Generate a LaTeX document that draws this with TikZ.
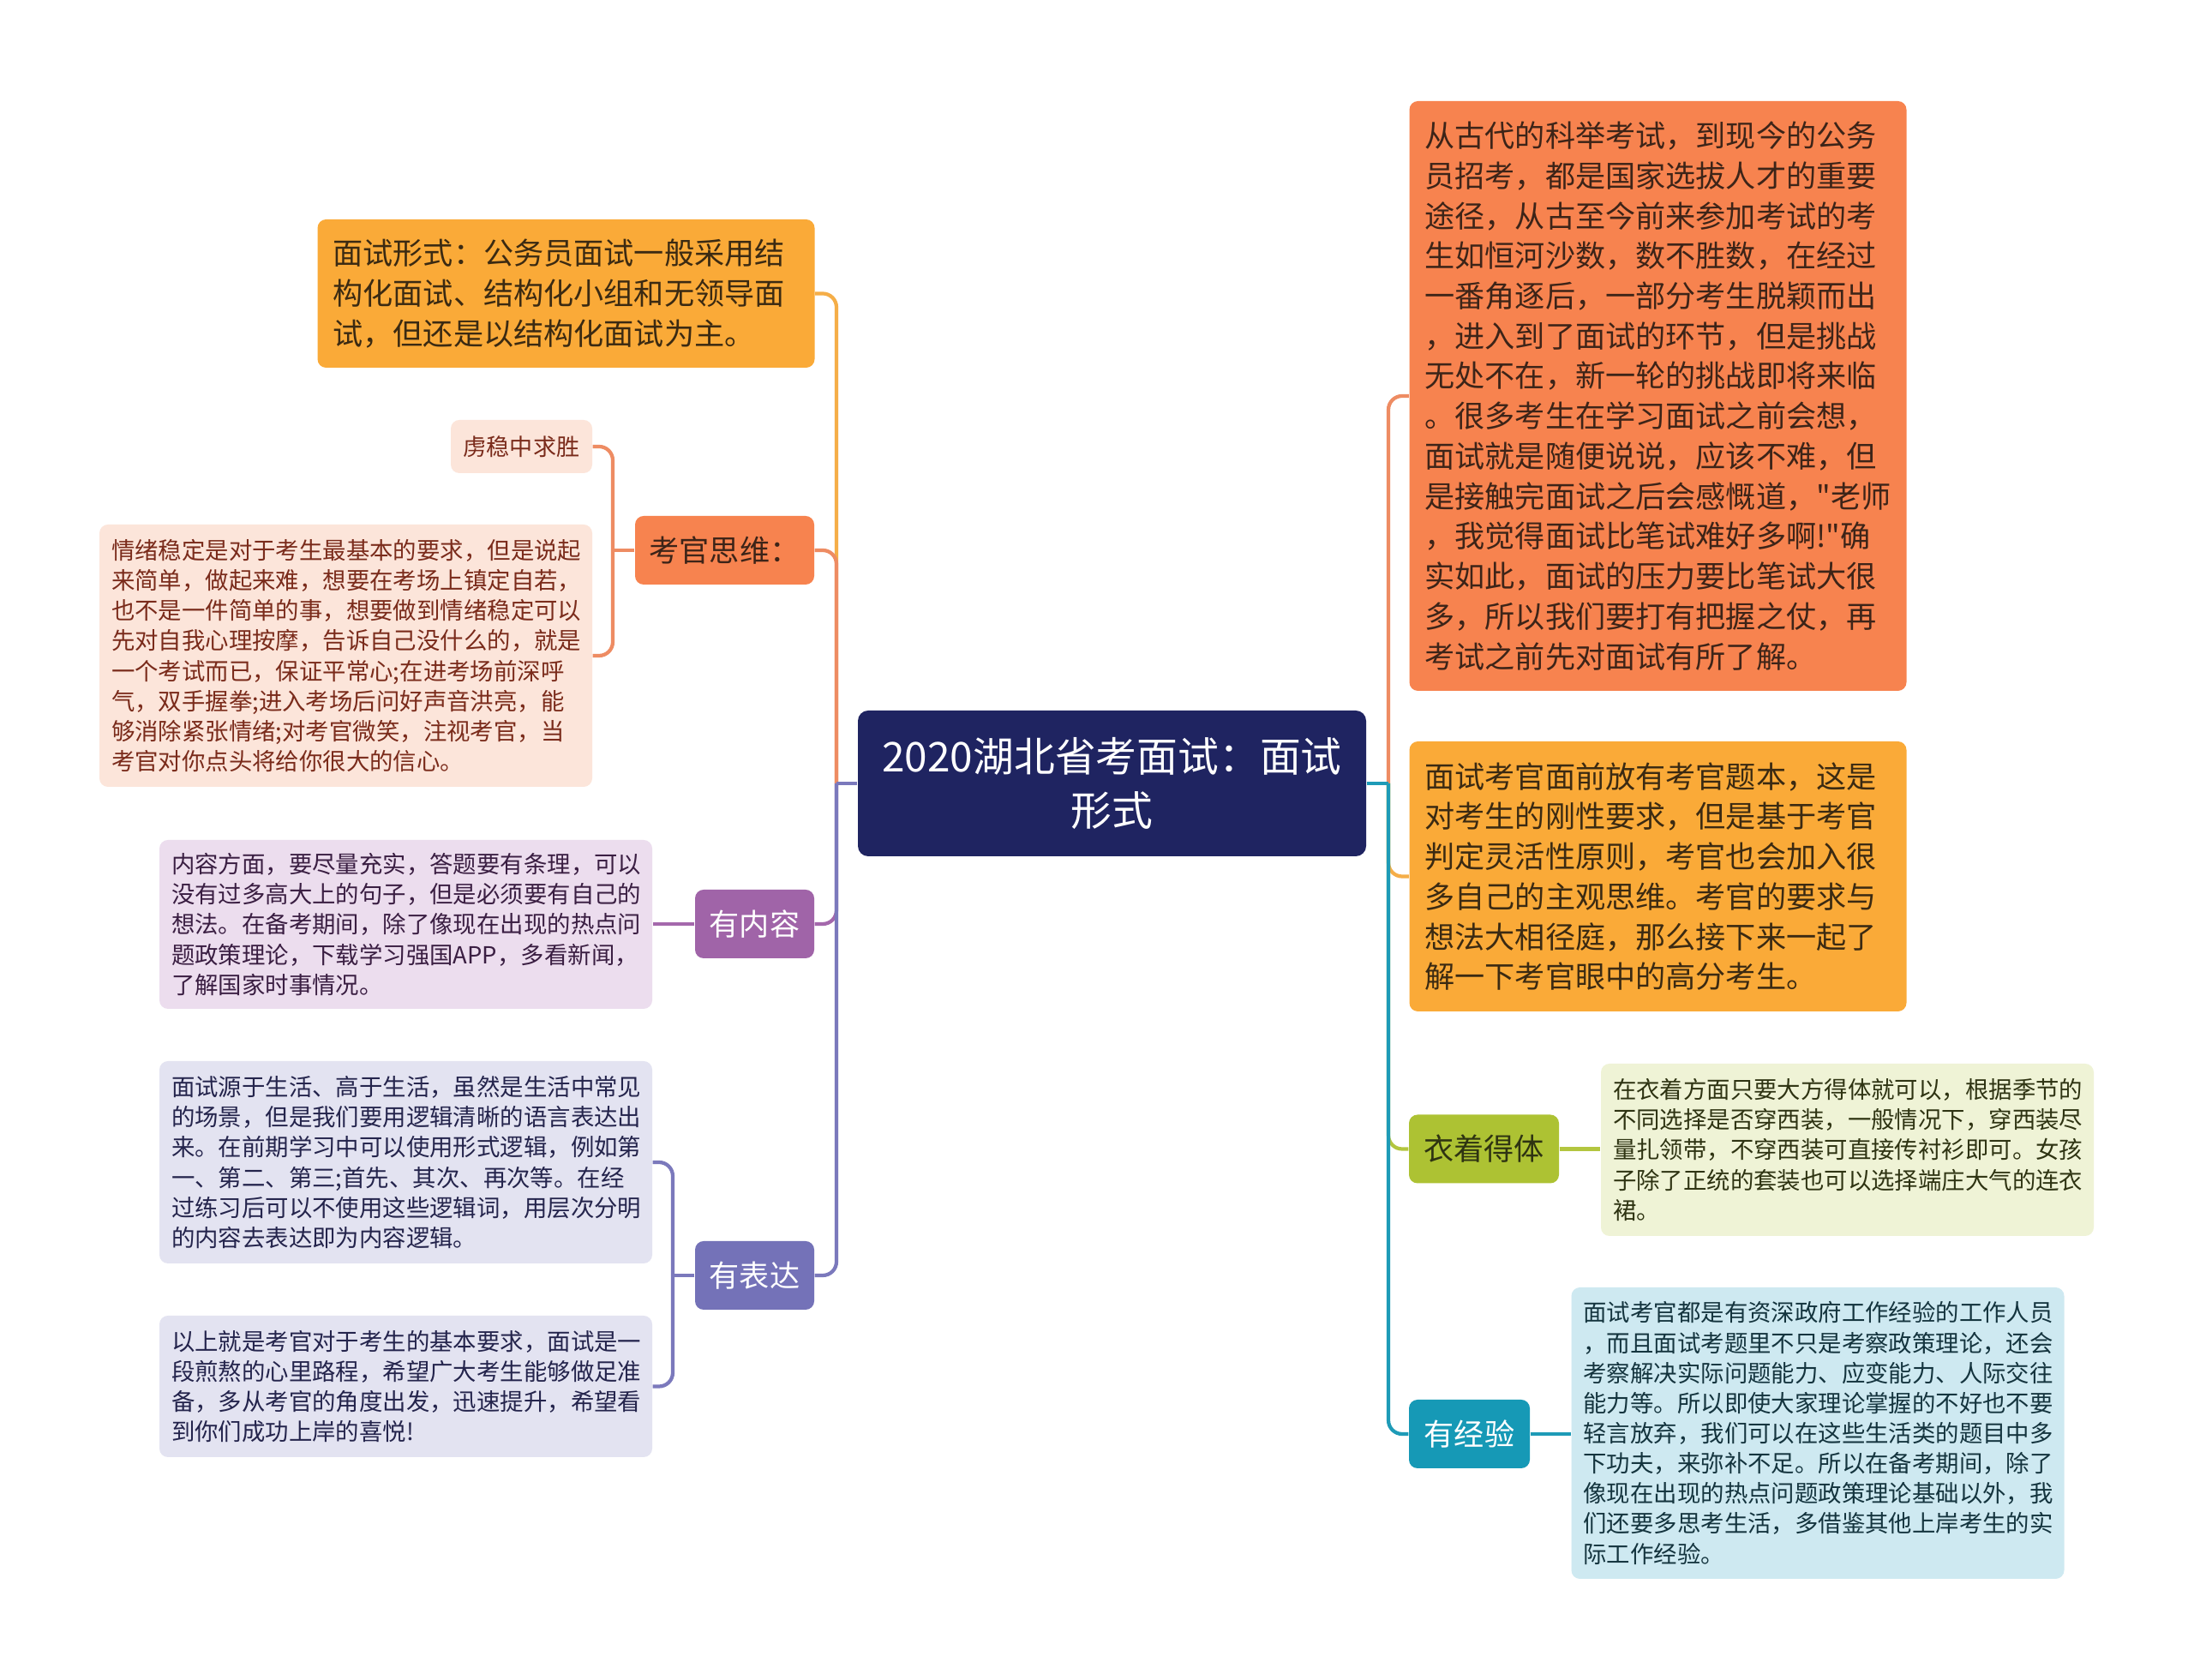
\documentclass[tikz,border=0pt]{standalone}
\usepackage{fontspec}
\setmainfont{Noto Sans CJK SC}[Ligatures=TeXOff]
\usepackage{xcolor}
\usepackage{tikz}

\definecolor{cRoot}{HTML}{1F2461}
\definecolor{cOra}{HTML}{FAAA38}
\definecolor{cOraT}{HTML}{3B2A12}
\definecolor{cCor}{HTML}{F7834F}
\definecolor{cCorT}{HTML}{3D2418}
\definecolor{cPea}{HTML}{FCE5DA}
\definecolor{cPeaT}{HTML}{7A2B1B}
\definecolor{cPur}{HTML}{A064A8}
\definecolor{cPurL}{HTML}{ECDDEE}
\definecolor{cPurT}{HTML}{3A1E42}
\definecolor{cInd}{HTML}{7472B8}
\definecolor{cIndL}{HTML}{E3E3F1}
\definecolor{cIndT}{HTML}{24244C}
\definecolor{cGrn}{HTML}{ADC233}
\definecolor{cGrnL}{HTML}{EFF3D6}
\definecolor{cGrnT}{HTML}{2E3312}
\definecolor{cTea}{HTML}{1699B6}
\definecolor{cTeaL}{HTML}{CEE9F1}
\definecolor{cTeaT}{HTML}{14343E}
\definecolor{lOra}{HTML}{F5AE48}
\definecolor{lCor}{HTML}{EE8C63}
\definecolor{lPur}{HTML}{A468AC}
\definecolor{lInd}{HTML}{7B79BC}
\definecolor{lGrn}{HTML}{B3C63F}
\definecolor{lTea}{HTML}{1E9BB7}

\begin{document}
\begin{tikzpicture}[
  hub/.style={
    rectangle, rounded corners=0.12cm, fill=cRoot, text=white,
    minimum width=5.93cm, minimum height=1.7cm, text width=5.6cm,
    align=center, font=\fontsize{13.6pt}{18pt}\selectfont
  },
  big/.style={
    rectangle, rounded corners=0.1cm, minimum width=5.8cm,
    text width=5.44cm, inner xsep=0.18cm, align=left,
    font=\fontsize{10pt}{13.3pt}\selectfont
  },
  leaf/.style={
    rectangle, rounded corners=0.1cm, minimum width=5.75cm,
    text width=5.47cm, inner xsep=0.14cm, align=left,
    font=\fontsize{7.8pt}{10pt}\selectfont
  },
  tag/.style={
    rectangle, rounded corners=0.1cm, minimum height=0.8cm,
    inner xsep=0.1cm, font=\fontsize{10pt}{12pt}\selectfont
  },
  lnk/.style={line width=1.2pt, rounded corners=0.16cm}
]

% ── Fondo ────────────────────────────────────────────────────
\fill[white] (0, 0) rectangle (25.6, 19.6);
\useasboundingbox (0, 0) rectangle (25.6, 19.6);

% ── Centro ───────────────────────────────────────────────────
\node[hub] (root) at (12.975, 10.46) {2020湖北省考面试：面试\\形式};

% ── Lado izquierdo ───────────────────────────────────────────
\node[big, fill=cOra, text=cOraT, minimum height=1.73cm] (xs) at (6.605, 16.175)
  {面试形式：公务员面试一般采用结\\构化面试、结构化小组和无领导面\\试，但还是以结构化面试为主。};

\node[tag, fill=cCor, text=cCorT, minimum width=2.09cm] (kg) at (8.455, 13.18) {考官思维：};
\node[tag, fill=cPea, text=cPeaT, minimum width=1.65cm, minimum height=0.62cm,
  font=\fontsize{7.7pt}{9pt}\selectfont] (wz) at (6.085, 14.39) {虏稳中求胜};
\node[leaf, fill=cPea, text=cPeaT, minimum height=3.06cm] (qx) at (4.035, 11.95)
  {情绪稳定是对于考生最基本的要求，但是说起\\来简单，做起来难，想要在考场上镇定自若，\\也不是一件简单的事，想要做到情绪稳定可以\\先对自我心理按摩，告诉自己没什么的，就是\\一个考试而已，保证平常心;在进考场前深呼\\气，双手握拳;进入考场后问好声音洪亮，能\\够消除紧张情绪;对考官微笑，注视考官，当\\考官对你点头将给你很大的信心。};

\node[tag, fill=cPur, text=white, minimum width=1.39cm] (nr) at (8.805, 8.82) {有内容};
\node[leaf, fill=cPurL, text=cPurT, minimum height=1.97cm] (nrt) at (4.735, 8.815)
  {内容方面，要尽量充实，答题要有条理，可以\\没有过多高大上的句子，但是必须要有自己的\\想法。在备考期间，除了像现在出现的热点问\\题政策理论，下载学习强国APP，多看新闻，\\了解国家时事情况。};

\node[tag, fill=cInd, text=white, minimum width=1.39cm] (bd) at (8.805, 4.72) {有表达};
\node[leaf, fill=cIndL, text=cIndT, minimum height=2.36cm] (bda) at (4.735, 6.04)
  {面试源于生活、高于生活，虽然是生活中常见\\的场景，但是我们要用逻辑清晰的语言表达出\\来。在前期学习中可以使用形式逻辑，例如第\\一、第二、第三;首先、其次、再次等。在经\\过练习后可以不使用这些逻辑词，用层次分明\\的内容去表达即为内容逻辑。};
\node[leaf, fill=cIndL, text=cIndT, minimum height=1.65cm] (bdb) at (4.735, 3.425)
  {以上就是考官对于考生的基本要求，面试是一\\段煎熬的心里路程，希望广大考生能够做足准\\备，多从考官的角度出发，迅速提升，希望看\\到你们成功上岸的喜悦!};

% ── Lado derecho ─────────────────────────────────────────────
\node[big, fill=cCor, text=cCorT, minimum height=6.88cm] (gd) at (19.345, 14.98)
  {从古代的科举考试，到现今的公务\\员招考，都是国家选拔人才的重要\\途径，从古至今前来参加考试的考\\生如恒河沙数，数不胜数，在经过\\一番角逐后，一部分考生脱颖而出\\，进入到了面试的环节，但是挑战\\无处不在，新一轮的挑战即将来临\\。很多考生在学习面试之前会想，\\面试就是随便说说，应该不难，但\\是接触完面试之后会感慨道，"老师\\，我觉得面试比笔试难好多啊!"确\\实如此，面试的压力要比笔试大很\\多，所以我们要打有把握之仗，再\\考试之前先对面试有所了解。};

\node[big, fill=cOra, text=cOraT, minimum height=3.15cm] (kgm) at (19.345, 9.375)
  {面试考官面前放有考官题本，这是\\对考生的刚性要求，但是基于考官\\判定灵活性原则，考官也会加入很\\多自己的主观思维。考官的要求与\\想法大相径庭，那么接下来一起了\\解一下考官眼中的高分考生。};

\node[tag, fill=cGrn, text=cGrnT, minimum width=1.75cm] (yz) at (17.315, 6.195) {衣着得体};
\node[leaf, fill=cGrnL, text=cGrnT, minimum height=2.01cm] (yzt) at (21.555, 6.185)
  {在衣着方面只要大方得体就可以，根据季节的\\不同选择是否穿西装，一般情况下，穿西装尽\\量扎领带，不穿西装可直接传衬衫即可。女孩\\子除了正统的套装也可以选择端庄大气的连衣\\裙。};

\node[tag, fill=cTea, text=white, minimum width=1.41cm] (jy) at (17.145, 2.87) {有经验};
\node[leaf, fill=cTeaL, text=cTeaT, minimum height=3.40cm] (jyt) at (21.21, 2.88)
  {面试考官都是有资深政府工作经验的工作人员\\，而且面试考题里不只是考察政策理论，还会\\考察解决实际问题能力、应变能力、人际交往\\能力等。所以即使大家理论掌握的不好也不要\\轻言放弃，我们可以在这些生活类的题目中多\\下功夫，来弥补不足。所以在备考期间，除了\\像现在出现的热点问题政策理论基础以外，我\\们还要多思考生活，多借鉴其他上岸考生的实\\际工作经验。};

% ── Ramas ────────────────────────────────────────────────────
\coordinate (lbus) at (9.76, 10.46);
\coordinate (rbus) at (16.2, 10.46);
\coordinate (kbus) at (7.15, 13.18);
\coordinate (ebus) at (7.85, 4.72);

% izquierda
\draw[lnk, lOra] (lbus) |- (xs.east);
\draw[lnk, lCor] (lbus) |- (kg.east);
\draw[lnk, lPur] (lbus) |- (nr.east);
\draw[lnk, lInd] (lbus) |- (bd.east);
\draw[lnk, lInd] (root.west) -- (lbus);

% derecha
\draw[lnk, lCor] (rbus) |- (gd.west);
\draw[lnk, lOra] (rbus) |- (kgm.west);
\draw[lnk, lGrn] (rbus) |- (yz.west);
\draw[lnk, lTea] (rbus) |- (jy.west);
\draw[lnk, lTea] (root.east) -- (rbus);

% subramas
\draw[lnk, lCor] (kg.west) -- (kbus);
\draw[lnk, lCor] (kbus) |- (wz.east);
\draw[lnk, lCor] (kbus) |- (qx.east);
\draw[lnk, lPur] (nr.west) -- (nr.west -| nrt.east);
\draw[lnk, lInd] (bd.west) -- (ebus);
\draw[lnk, lInd] (ebus) |- (bda.east);
\draw[lnk, lInd] (ebus) |- (bdb.east);
\draw[lnk, lGrn] (yz.east) -- (yz.east -| yzt.west);
\draw[lnk, lTea] (jy.east) -- (jy.east -| jyt.west);

\end{tikzpicture}
\end{document}
